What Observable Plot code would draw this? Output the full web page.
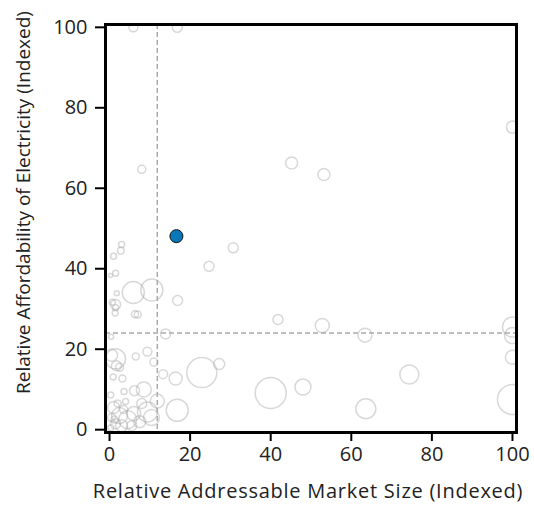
<!DOCTYPE html>
<html>
<head>
<meta charset="utf-8">
<script src="https://cdn.jsdelivr.net/npm/d3@7"></script>
<script src="https://cdn.jsdelivr.net/npm/@observablehq/plot@0.6"></script>
<style>
  body { margin: 0; background: #fff; }
</style>
</head>
<body>
<div id="chart"></div>
<script>
// Each market: addressable market size index, electricity affordability index, bubble size
const marketSize = [
  5.9, 16.8, 8.0, 45.2, 100, 53.2, 30.7, 24.7, 3.0, 2.8,
  1.0, 1.5, 0.25, 1.8, 5.9, 10.5, 16.9, 1.5, 1.5, 0.7,
  1.4, 6.3, 7.0, 41.8, 13.9, 0.4, 52.8, 63.4, 100, 100,
  100, 100, 74.4, 63.6, 48.0, 40.0, 22.9, 27.2, 16.4, 13.3,
  16.8, 11.85, 10.4, 6.5, 9.4, 11.0, 1.5, 0.5, 1.7, 2.5,
  3.2, 0.9, 6.2, 8.5, 3.6, 0.3, 9.4, 1.0, 2.5, 4.5,
  6.0, 1.5, 3.0, 0.5, 5.5, 7.5, 2.0, 0.3, 3.5, 4.0,
  1.2, 8.0
];
const affordability = [
  100, 100, 64.7, 66.3, 75.2, 63.4, 45.2, 40.6, 46.0, 44.5,
  43.1, 38.9, 38.3, 33.9, 34.1, 34.7, 32.1, 31.1, 30.3, 31.7,
  29.0, 28.7, 28.6, 27.4, 23.8, 23.1, 25.9, 23.5, 25.5, 23.4,
  18.0, 7.5, 13.7, 5.2, 10.6, 9.1, 14.2, 16.3, 12.7, 13.8,
  4.8, 7.1, 3.0, 18.2, 19.4, 16.8, 17.6, 18.5, 15.9, 15.5,
  12.7, 13.1, 9.7, 10.0, 9.5, 8.6, 4.4, 5.5, 3.5, 2.5,
  4.0, 1.5, 1.0, 3.0, 1.0, 2.0, 6.5, 0.5, 5.0, 7.0,
  2.5, 6.5
];
const bubbleSize = [
  8.4, 10.4, 6.7, 15.0, 15.0, 15.0, 10.4, 10.4, 3.7, 4.5,
  3.7, 3.7, 1.7, 2.6, 50.4, 50.4, 10.4, 10.4, 3.7, 3.7,
  3.7, 5.1, 5.1, 10.4, 10.4, 2.6, 20.4, 20.4, 41.6, 26.6,
  20.4, 93.7, 37.6, 41.6, 26.6, 100, 93.7, 12.6, 17.6, 8.4,
  50.4, 20.4, 26.6, 5.1, 8.4, 6.7, 41.6, 15.0, 10.4, 6.7,
  5.1, 3.7, 10.4, 23.4, 3.7, 3.7, 41.6, 15.0, 26.6, 33.7,
  20.4, 10.4, 15.0, 6.7, 10.4, 15.0, 5.1, 3.7, 6.7, 3.7,
  5.1, 10.4
];

// Highlighted market
const focusMarketSize = [16.6];
const focusAffordability = [48.1];
const focusBubbleSize = [17.6];

// Median reference lines
const medianMarketSize = [11.85];
const medianAffordability = [24.0];

const tickValues = [0, 20, 40, 60, 80, 100];
const xTitle = "Relative Addressable Market Size (Indexed)";
const yTitle = "Relative Affordability of Electricity (Indexed)";

const markets = marketSize.map((x, i) => ({x, y: affordability[i], size: bubbleSize[i]}));
const focus = focusMarketSize.map((x, i) => ({x, y: focusAffordability[i], size: focusBubbleSize[i]}));

const chart = Plot.plot({
  width: 534,
  height: 513,
  marginLeft: 105,
  marginRight: 18,
  marginTop: 24,
  marginBottom: 81,
  style: {fontFamily: "'Open Sans', sans-serif", fontSize: "20px", color: "#222", background: "#fff"},
  x: {domain: [-1, 101]},
  y: {domain: [-0.7, 100.7]},
  r: {type: "sqrt", domain: [0, 100], range: [0, 15.5]},
  marks: [
    Plot.dot(markets, {
      x: "x", y: "y", r: "size",
      fill: "none", stroke: "#a8a8a8", strokeOpacity: 0.45, strokeWidth: 1.5,
      clip: "frame"
    }),
    Plot.ruleX(medianMarketSize, {stroke: "#aaa", strokeWidth: 1.5, strokeDasharray: "5,3"}),
    Plot.ruleY(medianAffordability, {stroke: "#aaa", strokeWidth: 1.5, strokeDasharray: "5,3"}),
    Plot.dot(focus, {x: "x", y: "y", r: "size", fill: "#0a78b8", stroke: "#111", strokeWidth: 1}),
    Plot.frame({stroke: "#000", strokeWidth: 3}),
    Plot.axisX({
      ticks: tickValues, tickSize: 9, tickPadding: 5, stroke: "#000", strokeWidth: 2,
      label: null
    }),
    Plot.axisY({
      ticks: tickValues, tickSize: 10, tickPadding: 8, stroke: "#000", strokeWidth: 2,
      label: null
    }),
    // axis titles
    Plot.text([xTitle], {
      frameAnchor: "bottom", textAnchor: "middle", dx: -3, dy: 65,
      text: d => d, fill: "#222", fontSize: 20, className: "x-title"
    }),
    Plot.text([yTitle], {
      frameAnchor: "left", textAnchor: "middle", rotate: -90, dx: -82, dy: -26,
      text: d => d, fill: "#222", fontSize: 19, className: "y-title"
    })
  ]
});

// a touch of tracking on the horizontal title
chart.querySelectorAll(".x-title text").forEach(t => t.style.letterSpacing = "0.75px");

document.getElementById("chart").appendChild(chart);
</script>
</body>
</html>
